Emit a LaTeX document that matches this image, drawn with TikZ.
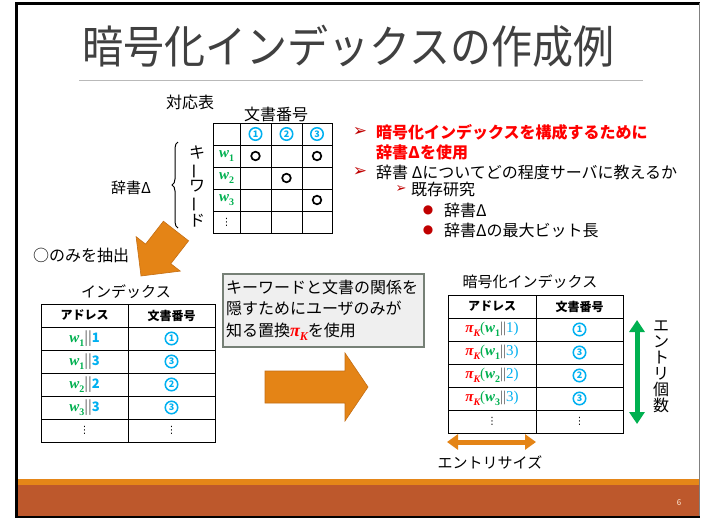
\documentclass[tikz,border=0pt]{standalone}
\usepackage{fontspec}
\setmainfont{Noto Sans CJK JP}
\newfontfamily\djv{DejaVu Sans}
\newfontfamily\lser{Liberation Serif}
\usetikzlibrary{arrows.meta,decorations.pathreplacing,calc}
\definecolor{cyanb}{RGB}{0,176,240}
\definecolor{greenb}{RGB}{0,176,80}
\definecolor{redb}{RGB}{255,0,0}
\definecolor{darkredb}{RGB}{192,0,0}
\definecolor{orangeb}{RGB}{228,132,22}
\definecolor{orangeedge}{RGB}{196,110,20}
\definecolor{footorange}{RGB}{229,134,24}
\definecolor{brownb}{RGB}{189,88,44}
\definecolor{titlegray}{RGB}{64,64,64}
\definecolor{bargray}{RGB}{90,90,90}
\definecolor{boxfill}{RGB}{239,239,239}
\definecolor{boxedge}{RGB}{118,128,118}
\newcommand{\fsz}[1]{\fontsize{#1}{#1}\selectfont}
\newcommand{\subs}[2]{\raisebox{-0.25em}{\fontsize{#1}{#1}\selectfont #2}}
\newcommand{\wi}[1]{{\color{greenb}\lser\bfseries\itshape\fsz{15}w\subs{10}{\upshape #1}}}
\newcommand{\piK}{{\color{redb}\lser\bfseries\itshape\fsz{15}π\subs{10}{K}}}
\newcommand{\piKbig}{{\color{redb}\lser\bfseries\itshape\fsz{18}π\subs{12}{K}}}
\newcommand{\idx}[2]{\wi{#1}{\color{bargray}\fsz{14}||}{\color{cyanb}\bfseries\fsz{13}#2}}
\newcommand{\enc}[2]{\piK{\lser\fsz{15}\color{greenb}(}\wi{#1}{\lser\fsz{15}\color{bargray}||}{\lser\fsz{15}\color{cyanb}#2)}}
\newcommand{\cn}[1]{\tikz[baseline={([yshift=-3.5pt]cc.center)}]\node[circle, draw=cyanb, line width=1.5pt, inner sep=0pt, minimum size=12.5pt, text=cyanb, font=\bfseries\fontsize{9}{9}\selectfont] (cc) {#1};}
\newcommand{\vd}{{\djv\fontsize{10}{10}\selectfont ⋮}}
\tikzset{
  txt/.style={inner sep=0pt, font=\fsz{16}},
  cell/.style={draw=black, line width=1pt, minimum height=23pt, inner sep=0pt, fill=white, font=\fsz{13}},
  hdr/.style={cell, font=\fsz{12}\bfseries},
  mcell/.style={draw=black, line width=0.8pt, minimum height=22pt, inner sep=0pt, font=\fsz{13}},
  blockarrow/.style={fill=orangeb, draw=orangeedge, line width=0.6pt},
  dimarrow/.style={line width=5pt},
}
\begin{document}
\begin{tikzpicture}[x=1pt,y=-1pt]
\useasboundingbox (0,0) rectangle (701,517);
\fill[white] (0,0) rectangle (701,517);
% footer
\fill[footorange] (17,479) rectangle (699,485);
\fill[brownb] (17,485) rectangle (699,516);
\node[font=\fsz{8}, text=white!85!orange] (pg) at (679,503) {6};
% frame
\draw[black, line width=3pt] (15,3.5) -- (700,3.5);
\draw[black, line width=3pt] (16.5,2) -- (16.5,517);
\draw[black, line width=2pt] (15,516.5) -- (700,516.5);
\draw[gray, line width=1.2pt] (699.6,3) -- (699.6,516);
% title
\node[font=\fsz{41}, text=titlegray] (title) at (348.5,46) {\scalebox{1}[1.1]{暗号化インデックスの作成例}};
\draw[gray!55, line width=1pt] (79,80.5) -- (643,80.5);

% correspondence matrix
\node[txt] (lblmat) at (190,102) {対応表};
\node[txt] (lbldoc) at (276,114) {文書番号};
\foreach \r/\y in {0/134,1/156,2/178,3/200,4/222}{
  \node[mcell, minimum width=27pt] (m-\r-0) at (226.5,\y) {};
  \node[mcell, minimum width=31pt] (m-\r-1) at (255.5,\y) {};
  \node[mcell, minimum width=31pt] (m-\r-2) at (286.5,\y) {};
  \node[mcell, minimum width=30pt] (m-\r-3) at (317,\y) {};
}
\node[font=\fsz{13}, inner sep=0pt] (h1) at (m-0-1) {\cn{1}};
\node[font=\fsz{13}, inner sep=0pt] (h2) at (m-0-2) {\cn{2}};
\node[font=\fsz{13}, inner sep=0pt] (h3) at (m-0-3) {\cn{3}};
\node[font=\fsz{13}, inner sep=0pt] (kw1) at (m-1-0) {\wi{1}};
\node[font=\fsz{13}, inner sep=0pt] (kw2) at (m-2-0) {\wi{2}};
\node[font=\fsz{13}, inner sep=0pt] (kw3) at (m-3-0) {\wi{3}};
\node[inner sep=0pt] (kwd) at (m-4-0) {\vd};
\draw[line width=1.7pt] (m-1-1.center) circle (4.3pt);
\draw[line width=1.7pt] (m-1-3.center) circle (4.3pt);
\draw[line width=1.7pt] (m-2-2.center) circle (4.3pt);
\draw[line width=1.7pt] (m-3-3.center) circle (4.3pt);
% brace and labels
\coordinate (brB) at (178,228);
\coordinate (brT) at (178,142);
\draw[line width=1pt, decorate, decoration={brace, amplitude=6pt}] (brB) -- (brT);
\node[txt, font=\fsz{15}] (dict) at (131,188) {辞書Δ};
\node[inner sep=0pt, font=\fontsize{16}{16.6}\selectfont, align=center] (kwv) at (197,186.5)
  {キ\\\rotatebox[origin=c]{90}{ー}\\ワ\\\rotatebox[origin=c]{90}{ー}\\ド};

% down-left block arrow
\draw[blockarrow] (163.4,221.2) -- (188.6,240.8) -- (170.8,263.7) -- (180.3,271.1) -- (141,276) -- (136.1,236.7) -- (145.6,244.1) -- cycle;
\node[txt] (extract) at (81,255) {○のみを抽出};

% index table
\node[txt, font=\fsz{15}] (lblidx) at (126,292) {インデックス};
\node[hdr, minimum width=87pt] (i-0-0) at (84.5,315.5) {アドレス};
\node[hdr, minimum width=87pt] (i-0-1) at (171.5,315.5) {文書番号};
\node[cell, minimum width=87pt] (i-1-0) at (84.5,338.5) {\idx{1}{1}};
\node[cell, minimum width=87pt] (i-1-1) at (171.5,338.5) {\cn{1}};
\node[cell, minimum width=87pt] (i-2-0) at (84.5,361.5) {\idx{1}{3}};
\node[cell, minimum width=87pt] (i-2-1) at (171.5,361.5) {\cn{3}};
\node[cell, minimum width=87pt] (i-3-0) at (84.5,384.5) {\idx{2}{2}};
\node[cell, minimum width=87pt] (i-3-1) at (171.5,384.5) {\cn{2}};
\node[cell, minimum width=87pt] (i-4-0) at (84.5,407.5) {\idx{3}{3}};
\node[cell, minimum width=87pt] (i-4-1) at (171.5,407.5) {\cn{3}};
\node[cell, minimum width=87pt] (i-5-0) at (84.5,430.5) {\vd};
\node[cell, minimum width=87pt] (i-5-1) at (171.5,430.5) {\vd};

% text box
\node[draw=boxedge, fill=boxfill, line width=1.3pt, minimum width=201pt, minimum height=73pt,
      text width=195pt, inner xsep=3pt, align=left, font=\fontsize{16}{21.5}\selectfont] (note) at (323.5,310.5)
  {キーワードと文書の関係を\\隠すためにユーザのみが\\知る置換\piKbig を使用};

% right block arrow
\draw[blockarrow] (265,371) -- (345,371) -- (345,353) -- (368,387) -- (345,421) -- (345,403) -- (265,403) -- cycle;

% encrypted index table
\node[txt, font=\fsz{15}] (lblenc) at (530,282) {暗号化インデックス};
\node[hdr, minimum width=88pt] (e-0-0) at (492,306.5) {アドレス};
\node[hdr, minimum width=87pt] (e-0-1) at (579.5,306.5) {文書番号};
\node[cell, minimum width=88pt] (e-1-0) at (492,329.5) {\enc{1}{1}};
\node[cell, minimum width=87pt] (e-1-1) at (579.5,329.5) {\cn{1}};
\node[cell, minimum width=88pt] (e-2-0) at (492,352.5) {\enc{1}{3}};
\node[cell, minimum width=87pt] (e-2-1) at (579.5,352.5) {\cn{3}};
\node[cell, minimum width=88pt] (e-3-0) at (492,375.5) {\enc{2}{2}};
\node[cell, minimum width=87pt] (e-3-1) at (579.5,375.5) {\cn{2}};
\node[cell, minimum width=88pt] (e-4-0) at (492,398.5) {\enc{3}{3}};
\node[cell, minimum width=87pt] (e-4-1) at (579.5,398.5) {\cn{3}};
\node[cell, minimum width=88pt] (e-5-0) at (492,421.5) {\vd};
\node[cell, minimum width=87pt] (e-5-1) at (579.5,421.5) {\vd};

% dimension arrows
\coordinate (ga1) at (637,320);
\coordinate (ga2) at (637,424);
\draw[dimarrow, greenb, {Triangle[length=12pt,width=15pt]}-{Triangle[length=12pt,width=15pt]}] (ga1) -- (ga2);
\node[inner sep=0pt, font=\fontsize{16}{16}\selectfont, align=center] (cnt) at (661,367) {エ\\ン\\ト\\リ\\個\\数};
\coordinate (oa1) at (447,442);
\coordinate (oa2) at (536,442);
\draw[dimarrow, orangeb, {Triangle[length=11pt,width=15pt]}-{Triangle[length=11pt,width=15pt]}] (oa1) -- (oa2);
\node[txt, font=\fsz{15}] (size) at (490,462) {エントリサイズ};

% bullet list
\node[txt, text=darkredb, font=\djv\bfseries\fsz{17}] (bl1) at (360,132) {➢};
\node[txt, anchor=west, text=redb, font=\fsz{16}\bfseries] (t1) at (376,132) {暗号化インデックスを構成するために};
\node[txt, anchor=west, text=redb, font=\fsz{16}\bfseries] (t1b) at (376,152) {辞書Δを使用};
\node[txt, text=darkredb, font=\djv\bfseries\fsz{17}] (bl2) at (360,172) {➢};
\node[txt, anchor=west] (t2) at (376,172) {辞書 Δについてどの程度サーバに教えるか};
\node[txt, text=darkredb, font=\djv\bfseries\fsz{13}] (bl3) at (401,189) {➢};
\node[txt, anchor=west] (t3) at (411,189) {既存研究};
\node[txt, text=darkredb, font=\djv\fsz{12}] (bl4) at (428,210) {●};
\node[txt, anchor=west] (t4) at (444,210) {辞書Δ};
\node[txt, text=darkredb, font=\djv\fsz{12}] (bl5) at (428,230) {●};
\node[txt, anchor=west] (t5) at (444,230) {辞書Δの最大ビット長};
\end{tikzpicture}
\end{document}
